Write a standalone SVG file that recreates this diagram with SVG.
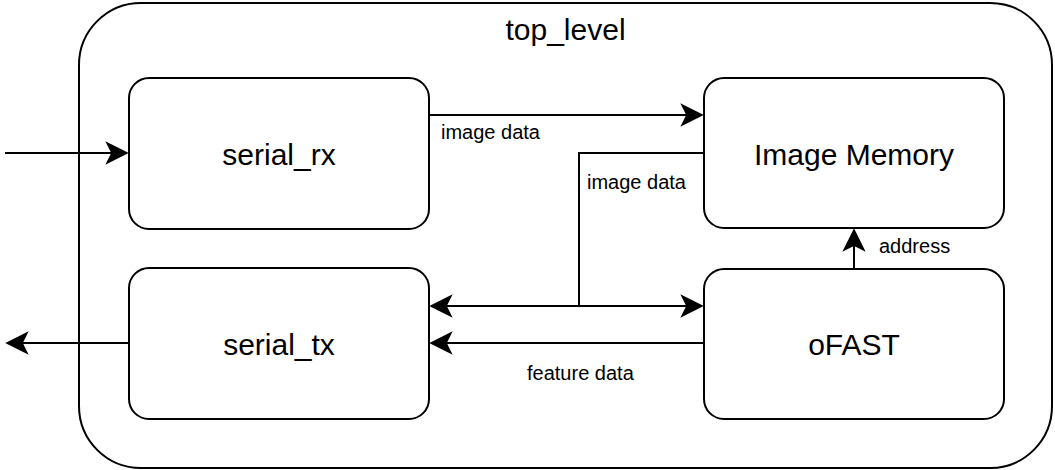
<svg xmlns="http://www.w3.org/2000/svg" width="1055" height="470" viewBox="0 0 1055 470">
<style>
.box{fill:#fff;stroke:#000;stroke-width:2}
.t{font-family:"Liberation Sans",Arial,sans-serif;font-size:30px;fill:#000;text-anchor:middle}
.l{font-family:"Liberation Sans",Arial,sans-serif;font-size:20px;fill:#000}
.e{fill:none;stroke:#000;stroke-width:2}
</style>
<defs>
<marker id="arr" markerUnits="userSpaceOnUse" viewBox="-22 -12 24 24" refX="0" refY="0" markerWidth="24" markerHeight="24" orient="auto">
<path d="M0,0 L-20,-10 L-15,0 L-20,10 Z" fill="#000" stroke="#000" stroke-width="1.5" stroke-linejoin="miter"/>
</marker>
</defs>
<g id="top_level">
<rect class="box" x="79" y="3" width="973" height="465" rx="62" ry="62"/>
<text class="t" x="565.5" y="40">top_level</text>
</g>
<g id="serial_rx">
<rect class="box" x="129" y="78" width="300" height="151" rx="20" ry="20"/>
<text class="t" x="279" y="165">serial_rx</text>
</g>
<g id="serial_tx">
<rect class="box" x="129" y="268" width="300" height="151" rx="20" ry="20"/>
<text class="t" x="279" y="355">serial_tx</text>
</g>
<g id="image_memory">
<rect class="box" x="704" y="78" width="300" height="150" rx="20" ry="20"/>
<text class="t" x="854" y="165">Image Memory</text>
</g>
<g id="ofast">
<rect class="box" x="704" y="269" width="300" height="150" rx="20" ry="20"/>
<text class="t" x="854" y="355">oFAST</text>
</g>
<g id="connectors">
<path class="e" d="M5,153 H127" marker-end="url(#arr)"/>
<path class="e" d="M129,343 H7" marker-end="url(#arr)"/>
<path class="e" d="M429,115 H702" marker-end="url(#arr)"/>
<text class="l" x="441" y="139">image data</text>
<path class="e" d="M704,153 H579 V306"/>
<path class="e" d="M579,306 H431" marker-end="url(#arr)"/>
<path class="e" d="M579,306 H702" marker-end="url(#arr)"/>
<text class="l" x="587" y="189">image data</text>
<path class="e" d="M704,343 H431" marker-end="url(#arr)"/>
<text class="l" x="527" y="380">feature data</text>
<path class="e" d="M854,269 V230" marker-end="url(#arr)"/>
<text class="l" x="879" y="253">address</text>
</g>
</svg>
